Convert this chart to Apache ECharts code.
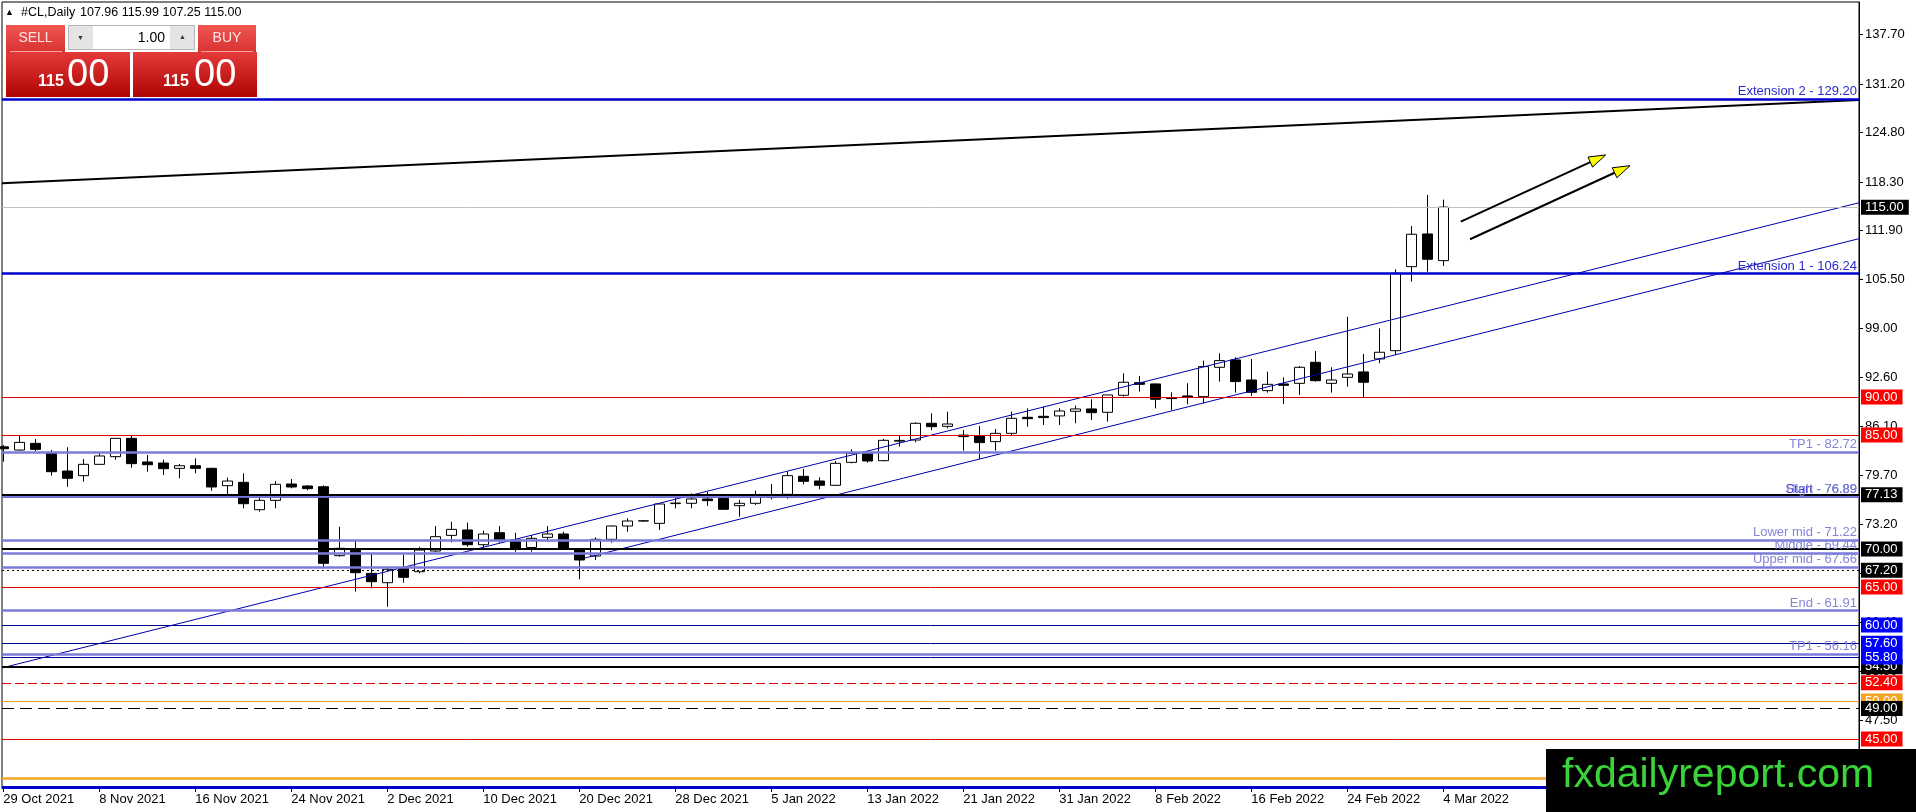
<!DOCTYPE html>
<html>
<head>
<meta charset="utf-8">
<title>#CL,Daily</title>
<script src="https://cdn.jsdelivr.net/npm/echarts@6/dist/echarts.min.js"></script>
<style>
html, body { margin: 0; padding: 0; background: #fff; }
#main { width: 1916px; height: 812px; }
</style>
</head>
<body>
<div id="main"></div>
<script>
// bars (daily)
var dates = [
  '29 Oct 2021', '1 Nov 2021', '2 Nov 2021', '3 Nov 2021', '4 Nov 2021', '5 Nov 2021',
  '8 Nov 2021', '9 Nov 2021', '10 Nov 2021', '11 Nov 2021', '12 Nov 2021',
  '15 Nov 2021', '16 Nov 2021', '17 Nov 2021', '18 Nov 2021', '19 Nov 2021',
  '22 Nov 2021', '23 Nov 2021', '24 Nov 2021', '25 Nov 2021', '26 Nov 2021',
  '29 Nov 2021', '30 Nov 2021', '1 Dec 2021', '2 Dec 2021', '3 Dec 2021',
  '6 Dec 2021', '7 Dec 2021', '8 Dec 2021', '9 Dec 2021', '10 Dec 2021',
  '13 Dec 2021', '14 Dec 2021', '15 Dec 2021', '16 Dec 2021', '17 Dec 2021',
  '20 Dec 2021', '21 Dec 2021', '22 Dec 2021', '23 Dec 2021', '24 Dec 2021',
  '27 Dec 2021', '28 Dec 2021', '29 Dec 2021', '30 Dec 2021', '31 Dec 2021',
  '3 Jan 2022', '4 Jan 2022', '5 Jan 2022', '6 Jan 2022', '7 Jan 2022',
  '10 Jan 2022', '11 Jan 2022', '12 Jan 2022', '13 Jan 2022', '14 Jan 2022',
  '17 Jan 2022', '18 Jan 2022', '19 Jan 2022', '20 Jan 2022', '21 Jan 2022',
  '24 Jan 2022', '25 Jan 2022', '26 Jan 2022', '27 Jan 2022', '28 Jan 2022',
  '31 Jan 2022', '1 Feb 2022', '2 Feb 2022', '3 Feb 2022', '4 Feb 2022',
  '7 Feb 2022', '8 Feb 2022', '9 Feb 2022', '10 Feb 2022', '11 Feb 2022',
  '14 Feb 2022', '15 Feb 2022', '16 Feb 2022', '17 Feb 2022', '18 Feb 2022',
  '21 Feb 2022', '22 Feb 2022', '23 Feb 2022', '24 Feb 2022', '25 Feb 2022',
  '28 Feb 2022', '1 Mar 2022', '2 Mar 2022', '3 Mar 2022', '4 Mar 2022'
];
var opens = [
  83.45, 83.03, 83.91, 82.60, 80.27, 79.66, 81.15, 82.16, 84.57, 81.46,
  81.32, 80.62, 80.97, 80.62, 78.34, 78.78, 75.18, 76.41, 78.56, 78.30,
  78.20, 69.13, 69.96, 66.80, 65.57, 67.55, 67.02, 69.74, 71.80, 72.51,
  70.57, 72.15, 71.19, 70.20, 71.54, 71.98, 69.96, 69.08, 71.28, 73.03,
  73.69, 73.38, 75.98, 76.02, 76.59, 76.68, 75.71, 76.02, 76.80, 77.20,
  79.57, 78.96, 78.39, 81.41, 82.60, 81.63, 84.20, 84.35, 86.55, 86.15,
  85.00, 84.93, 84.14, 85.23, 87.34, 87.47, 87.52, 88.13, 88.44, 88.00,
  90.24, 91.90, 91.73, 89.90, 90.15, 90.06, 93.92, 94.89, 92.25, 90.85,
  91.73, 91.81, 94.58, 91.81, 92.60, 93.31, 95.02, 96.11, 107.17, 111.47,
  107.96
];
var closes = [
  83.20, 84.04, 83.12, 80.18, 79.31, 81.15, 82.25, 84.57, 81.24, 81.10,
  80.58, 80.97, 80.62, 78.17, 78.95, 75.97, 76.41, 78.52, 78.17, 77.95,
  68.12, 70.10, 66.89, 65.70, 67.33, 66.28, 69.87, 71.63, 72.59, 70.57,
  71.98, 71.19, 69.96, 71.41, 71.98, 70.05, 68.56, 71.28, 73.03, 73.69,
  73.72, 75.93, 76.05, 76.59, 76.37, 75.23, 76.02, 76.90, 76.95, 79.66,
  78.91, 78.39, 81.28, 82.60, 81.59, 84.31, 84.30, 86.55, 86.11, 86.46,
  84.80, 84.01, 85.23, 87.21, 87.16, 87.30, 88.17, 88.44, 87.95, 90.28,
  91.95, 91.68, 89.71, 89.80, 90.02, 94.01, 94.80, 92.04, 90.63, 91.68,
  91.55, 93.92, 92.16, 92.25, 93.04, 91.95, 95.90, 106.29, 111.43, 108.14,
  115.00
];
var lows = [
  81.50, 82.95, 82.90, 79.66, 78.20, 78.87, 81.10, 81.76, 80.71, 80.18,
  79.75, 79.31, 79.96, 77.68, 77.20, 75.36, 74.92, 75.36, 77.99, 77.73,
  67.47, 68.99, 64.39, 64.83, 62.41, 65.57, 66.80, 69.60, 70.88, 70.31,
  70.22, 70.84, 69.65, 69.65, 70.97, 69.96, 66.01, 68.56, 70.84, 72.29,
  73.60, 72.51, 75.36, 75.36, 75.67, 75.14, 74.26, 75.80, 76.54, 76.63,
  78.52, 77.86, 78.30, 81.28, 81.37, 81.55, 83.48, 84.05, 85.67, 85.89,
  82.95, 81.86, 82.95, 85.01, 86.11, 86.33, 86.33, 86.55, 86.99, 86.77,
  90.06, 90.72, 88.52, 88.31, 89.05, 89.18, 92.04, 90.59, 90.15, 90.59,
  89.09, 90.28, 92.03, 90.59, 91.38, 89.97, 94.45, 95.54, 105.20, 106.51,
  107.25
];
var highs = [
  83.70, 84.88, 84.48, 83.04, 83.39, 81.85, 82.73, 84.60, 84.88, 82.38,
  81.76, 81.19, 81.94, 80.71, 79.39, 79.96, 76.89, 78.95, 79.22, 78.43,
  78.40, 72.94, 71.19, 69.35, 67.50, 69.22, 70.30, 73.03, 73.60, 73.47,
  72.42, 73.03, 72.15, 71.85, 73.03, 72.29, 70.10, 71.54, 73.10, 74.04,
  73.80, 76.00, 76.76, 77.33, 77.55, 76.76, 76.46, 77.69, 78.56, 80.18,
  80.54, 79.44, 81.59, 83.13, 82.95, 84.49, 84.88, 86.68, 87.86, 88.08,
  85.67, 86.20, 85.80, 88.09, 88.52, 88.74, 88.52, 88.88, 89.71, 90.30,
  93.13, 92.78, 91.80, 90.63, 91.82, 94.80, 95.76, 95.24, 95.02, 93.35,
  92.60, 94.10, 96.07, 93.92, 100.59, 95.68, 99.05, 106.82, 112.52, 116.61,
  115.99
];

// axis ticks
var xLabelIdx = [0, 6, 12, 18, 24, 30, 36, 42, 48, 54, 60, 66, 72, 78, 84, 90];
var yTicks = [47.5, 53.9, 60.4, 66.8, 73.2, 79.7, 86.1, 92.6, 99.0, 105.5, 111.9, 118.3, 124.8, 131.2, 137.7];

// objects drawn on the chart
var extNames = ['Extension 2', 'Extension 1', 'Start'];
var extValues = [129.20, 106.24, 76.89];
var fiboNames = ['TP1', 'High', 'Lower mid', 'Middle', 'Upper mid', 'End', 'TP1'];
var fiboValues = [82.72, 76.89, 71.22, 69.44, 67.66, 61.91, 56.16];
var redLevels = [90.00, 85.00, 65.00, 45.00];
var redDashLevels = [52.40];
var blackLevels = [77.13, 70.00, 54.50];
var blackDotLevels = [67.20];
var blackDashLevels = [49.00];
var blueLevels = [60.00, 57.60, 55.80];
var orangeLevels = [50.00];
var bottomOrange = [39.80];
var bottomBlue = [38.65];
// trend lines: [bar index, price]
var topTrend = [[-0.08, 118.14], [115.98, 129.11]];
var channelUpper = [[-0.08, 54.36], [115.98, 115.58]];
var channelLower = [[36.36, 68.83], [115.98, 110.85]];
// arrows: [from index, from price, to index, to price]
var arrows = [[91.09, 113.09, 100.15, 121.87], [91.67, 110.77, 101.67, 120.46]];

var FONT = 'Liberation Sans, Arial, sans-serif';
var last = closes.length - 1;

var candleData = dates.map(function (d, i) {
  return [i, opens[i], closes[i], lows[i], highs[i]];
});

function plainLine(v, color, width, type) {
  return { yAxis: v, lineStyle: { color: color, width: width, type: type || 'solid' }, label: { show: false } };
}
function tagLine(v, color, width, type, tagColor) {
  return {
    yAxis: v,
    lineStyle: { color: color, width: width, type: type || 'solid' },
    label: {
      show: true, position: 'end', distance: 2, formatter: v.toFixed(2),
      color: '#fff', backgroundColor: tagColor, padding: [1, 5, 0, 4],
      fontSize: 13, fontFamily: FONT, lineHeight: 14
    }
  };
}
function textLine(v, name, color, width, textColor) {
  return {
    yAxis: v,
    lineStyle: { color: color, width: width, type: 'solid' },
    label: {
      show: true, position: 'insideEndTop', distance: [2, 1],
      formatter: name + ' - ' + v.toFixed(2),
      color: textColor, fontSize: 13, fontFamily: FONT
    }
  };
}

var levelData = [];
extValues.forEach(function (v, i) { levelData.push(textLine(v, extNames[i], '#0000cd', 2.5, '#2a2ac8')); });
fiboValues.forEach(function (v, i) { levelData.push(textLine(v, fiboNames[i], '#7b7bdb', 2.5, '#8585d9')); });
bottomOrange.forEach(function (v) { levelData.push(plainLine(v, '#f5a623', 2.5)); });
bottomBlue.forEach(function (v) { levelData.push(plainLine(v, '#0000cd', 3)); });
orangeLevels.forEach(function (v) { levelData.push(tagLine(v, '#f0a020', 1, 'solid', '#f5a623')); });
blackLevels.forEach(function (v) { levelData.push(tagLine(v, '#000', 2, 'solid', '#000')); });
blackDotLevels.forEach(function (v) { levelData.push(tagLine(v, '#000', 1, [2, 3], '#000')); });
blackDashLevels.forEach(function (v) { levelData.push(tagLine(v, '#000', 1, [12, 6], '#000')); });
blueLevels.forEach(function (v) { levelData.push(tagLine(v, '#00008b', 1, 'solid', '#0000ff')); });
redLevels.forEach(function (v) { levelData.push(tagLine(v, '#e00000', 1, 'solid', '#ff0000')); });
redDashLevels.forEach(function (v) { levelData.push(tagLine(v, '#e00000', 1, [9, 4], '#ff0000')); });
levelData.push(tagLine(closes[last], '#c0c0c0', 1, 'solid', '#000'));

function trendSeries(pts, color, width) {
  return {
    type: 'line', data: pts, showSymbol: false, silent: true, z: 4,
    lineStyle: { color: color, width: width }, animation: false
  };
}

function renderArrow(params, api) {
  var p1 = api.coord([api.value(0), api.value(1)]);
  var p2 = api.coord([api.value(2), api.value(3)]);
  var ang = Math.atan2(p2[1] - p1[1], p2[0] - p1[0]);
  var len = 17, half = 5.5;
  var bx = p2[0] - len * Math.cos(ang), by = p2[1] - len * Math.sin(ang);
  var nx = -Math.sin(ang) * half, ny = Math.cos(ang) * half;
  return {
    type: 'group',
    children: [
      { type: 'line', shape: { x1: p1[0], y1: p1[1], x2: bx, y2: by }, style: { stroke: '#000', lineWidth: 2 } },
      { type: 'polygon', shape: { points: [[p2[0], p2[1]], [bx + nx, by + ny], [bx - nx, by - ny]] },
        style: { fill: '#ffff00', stroke: '#000', lineWidth: 1 } }
    ]
  };
}

// header + trade panel + banner
function txt(x, y, s, size, color, align, weight) {
  return {
    type: 'text', z: 100, x: x, y: y,
    style: {
      text: s, fill: color, fontSize: size, fontFamily: FONT, fontWeight: weight || 'normal',
      align: align || 'left', verticalAlign: 'middle', textAlign: align || 'left', textVerticalAlign: 'middle'
    }
  };
}
function box(x, y, w, h, fill, stroke) {
  return { type: 'rect', z: 100, shape: { x: x, y: y, width: w, height: h },
           style: { fill: fill, stroke: stroke || null, lineWidth: 1 } };
}
function redGrad(c1, c2) {
  return { type: 'linear', x: 0, y: 0, x2: 0, y2: 1, colorStops: [{ offset: 0, color: c1 }, { offset: 1, color: c2 }] };
}
var ohlc = [opens[last], highs[last], lows[last], closes[last]].map(function (v) { return v.toFixed(2); }).join(' ');
var bidParts = closes[last].toFixed(2).split('.');

var graphics = [
  txt(5, 13, '\u25B2', 9, '#000'),
  txt(21, 13, '#CL,Daily', 12.5, '#000'),
  txt(80, 13, ohlc, 12.5, '#000'),
  box(6, 25, 59, 27, redGrad('#ef5753', '#d93231')),
  box(198, 25, 58, 27, redGrad('#ef5753', '#d93231')),
  { type: 'line', z: 101, shape: { x1: 10, y1: 51.5, x2: 62, y2: 51.5 }, style: { stroke: '#f4a3a3', lineWidth: 1 } },
  { type: 'line', z: 101, shape: { x1: 201, y1: 51.5, x2: 253, y2: 51.5 }, style: { stroke: '#f4a3a3', lineWidth: 1 } },
  txt(35.5, 38.5, 'SELL', 14, '#ffe4e4', 'center'),
  txt(227, 38.5, 'BUY', 14, '#ffe4e4', 'center'),
  box(68.5, 25.5, 126, 24, '#e4e4e4', '#b5b5b5'),
  box(93, 26, 77, 23, '#fff'),
  txt(80.5, 38, '\u25BC', 7, '#333', 'center'),
  txt(182.5, 37, '\u25B2', 7, '#333', 'center'),
  txt(165, 38, '1.00', 14, '#000', 'right'),
  box(6, 52, 124, 45, redGrad('#e43a3a', '#b00404')),
  box(133, 52, 124, 45, redGrad('#e43a3a', '#b00404')),
  txt(38, 82, bidParts[0], 16, '#fff', 'left', 'bold'),
  txt(67, 76, bidParts[1], 38, '#fff'),
  txt(163, 82, bidParts[0], 16, '#fff', 'left', 'bold'),
  txt(194, 76, bidParts[1], 38, '#fff'),
  box(1546, 749, 370, 63, '#000'),
  txt(1562, 776, 'fxdailyreport.com', 41, '#3ad43a')
];

var myChart = echarts.init(document.getElementById('main'));
var option = {
  animation: false,
  backgroundColor: '#fff',
  grid: {
    left: 2, right: 57, top: 2, bottom: 24,
    show: true, borderColor: '#000', borderWidth: 1, backgroundColor: '#fff',
    containLabel: false, outerBoundsMode: 'none'
  },
  xAxis: {
    type: 'value', min: -0.08, max: 115.98,
    splitLine: { show: false },
    axisLine: { show: true, onZero: false, lineStyle: { color: '#000', width: 1 } },
    axisTick: { show: true, length: 4, lineStyle: { color: '#000' }, customValues: xLabelIdx },
    axisLabel: {
      customValues: xLabelIdx, color: '#000', fontSize: 13, fontFamily: FONT,
      align: 'left', margin: 5,
      formatter: function (v) { return dates[Math.round(v)] || ''; }
    }
  },
  yAxis: {
    type: 'value', position: 'right', min: 38.55, max: 142.0, scale: true,
    splitLine: { show: false },
    axisLine: { show: true, onZero: false, lineStyle: { color: '#000', width: 1 } },
    axisTick: { show: true, length: 4, lineStyle: { color: '#000' }, customValues: yTicks },
    axisLabel: {
      customValues: yTicks, color: '#000', fontSize: 13, fontFamily: FONT, margin: 6,
      formatter: function (v) { return v.toFixed(2); }
    }
  },
  series: [
    {
      type: 'candlestick',
      data: candleData,
      barWidth: 10,
      silent: true,
      itemStyle: { color: '#fff', color0: '#000', borderColor: '#000', borderColor0: '#000', borderWidth: 1 },
      markLine: {
        silent: true, symbol: ['none', 'none'], animation: false,
        data: levelData
      }
    },
    trendSeries(topTrend, '#000', 2),
    trendSeries(channelUpper, '#0000aa', 1),
    trendSeries(channelLower, '#0000aa', 1),
    {
      type: 'custom', data: arrows, renderItem: renderArrow, z: 10, silent: true,
      encode: { x: [0, 2], y: [1, 3] }, clip: false
    }
  ],
  graphic: graphics
};
myChart.setOption(option);
</script>
</body>
</html>
